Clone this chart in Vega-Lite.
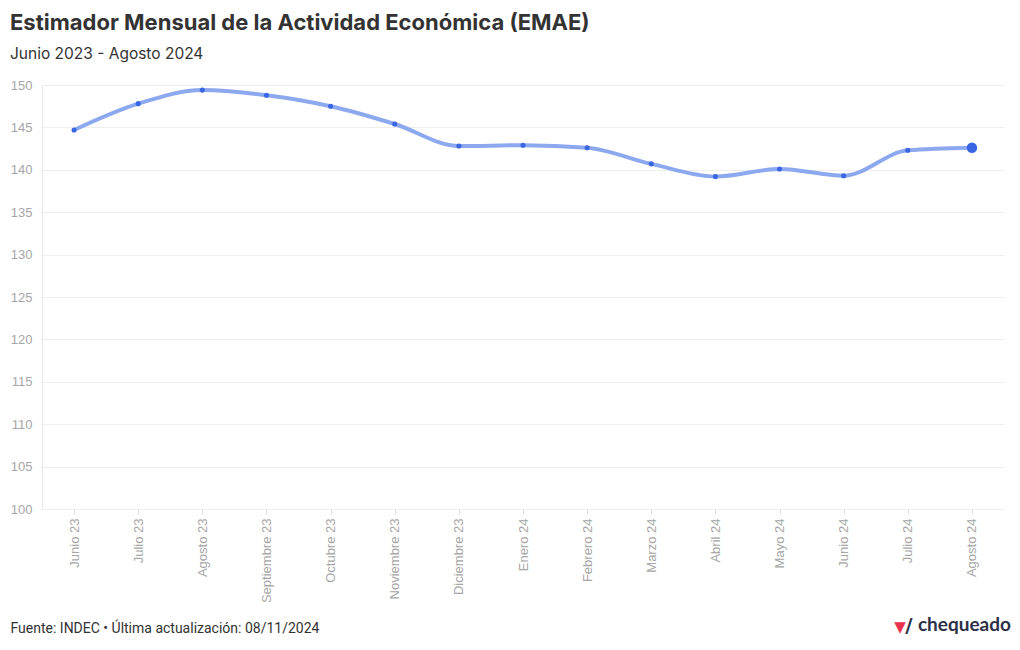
{
  "$schema": "https://vega.github.io/schema/vega-lite/v6.json",
  "width": 962,
  "height": 424,
  "autosize": {"type": "none"},
  "padding": {"left": 42, "top": 85, "right": 16, "bottom": 141},
  "background": "white",
  "config": {"view": {"stroke": null}},
  "title": {
    "text": "Estimador Mensual de la Actividad Económica (EMAE)",
    "subtitle": "Junio 2023 - Agosto 2024",
    "anchor": "start",
    "frame": "group",
    "dx": -32,
    "offset": 16,
    "font": "Inter",
    "fontSize": 22,
    "fontWeight": "bold",
    "color": "#333333",
    "subtitleFont": "Inter",
    "subtitleFontSize": 15.5,
    "subtitleColor": "#333333",
    "subtitlePadding": 12
  },
  "data": {
    "values": [
      {"mes": "Junio 23", "valor": 144.7},
      {"mes": "Julio 23", "valor": 147.8},
      {"mes": "Agosto 23", "valor": 149.4},
      {"mes": "Septiembre 23", "valor": 148.8},
      {"mes": "Octubre 23", "valor": 147.5},
      {"mes": "Noviembre 23", "valor": 145.4},
      {"mes": "Diciembre 23", "valor": 142.8},
      {"mes": "Enero 24", "valor": 142.9},
      {"mes": "Febrero 24", "valor": 142.6},
      {"mes": "Marzo 24", "valor": 140.7},
      {"mes": "Abril 24", "valor": 139.2},
      {"mes": "Mayo 24", "valor": 140.1},
      {"mes": "Junio 24", "valor": 139.3},
      {"mes": "Julio 24", "valor": 142.3},
      {"mes": "Agosto 24", "valor": 142.6, "ultimo": true}
    ]
  },
  "encoding": {
    "x": {
      "field": "mes",
      "type": "ordinal",
      "sort": null,
      "scale": {"type": "point", "padding": 0.5},
      "axis": {
        "labelAngle": -90,
        "labelAlign": "right",
        "labelBaseline": "middle",
        "labelFont": "Liberation Sans",
        "labelFontSize": 13,
        "labelColor": "#a6a6a6",
        "labelPadding": 4,
        "tickColor": "#dddddd",
        "tickSize": 5,
        "domain": false,
        "grid": false,
        "title": "Fuente: INDEC • Última actualización: 08/11/2024",
        "titleAnchor": "start",
        "titleAlign": "left",
        "titleBaseline": "alphabetic",
        "titleX": -32,
        "titleY": 123,
        "titleFont": "Roboto",
        "titleFontSize": 14,
        "titleFontWeight": "normal",
        "titleColor": "#333333"
      }
    },
    "y": {
      "field": "valor",
      "type": "quantitative",
      "scale": {"domain": [100, 150], "nice": false, "zero": false},
      "axis": {
        "values": [100, 105, 110, 115, 120, 125, 130, 135, 140, 145, 150],
        "title": null,
        "labelFont": "Liberation Sans",
        "labelFontSize": 13,
        "labelColor": "#a6a6a6",
        "labelPadding": 10,
        "ticks": false,
        "domain": true,
        "domainColor": "#e6e6e6",
        "gridColor": "#eeeeee"
      }
    }
  },
  "layer": [
    {
      "mark": {"type": "line", "interpolate": "monotone", "color": "#8ca8ef", "strokeWidth": 4, "strokeCap": "round"}
    },
    {
      "mark": {"type": "point", "filled": true, "opacity": 1, "color": "#3b66e3"},
      "encoding": {
        "size": {
          "condition": {"test": "datum.ultimo", "value": 110},
          "value": 26
        }
      }
    },
    {
      "transform": [{"filter": "datum.ultimo"}],
      "mark": {"type": "text", "align": "right", "baseline": "alphabetic", "dx": 39, "dy": 122, "font": "Lato", "fontSize": 19, "fontWeight": "bold", "color": "#2c3047", "text": "chequeado"},
      "encoding": {"y": {"datum": 100}}
    },
    {
      "transform": [{"filter": "datum.ultimo"}],
      "mark": {"type": "text", "align": "center", "baseline": "alphabetic", "dx": -72, "dy": 123, "font": "DejaVu Sans", "fontSize": 15, "color": "#e8344e", "text": "▼"},
      "encoding": {"y": {"datum": 100}}
    },
    {
      "transform": [{"filter": "datum.ultimo"}],
      "mark": {"type": "text", "align": "center", "baseline": "alphabetic", "dx": -63, "dy": 123, "font": "DejaVu Sans", "fontSize": 20, "fontWeight": "bold", "color": "#2c3047", "text": "/"},
      "encoding": {"y": {"datum": 100}}
    }
  ]
}
